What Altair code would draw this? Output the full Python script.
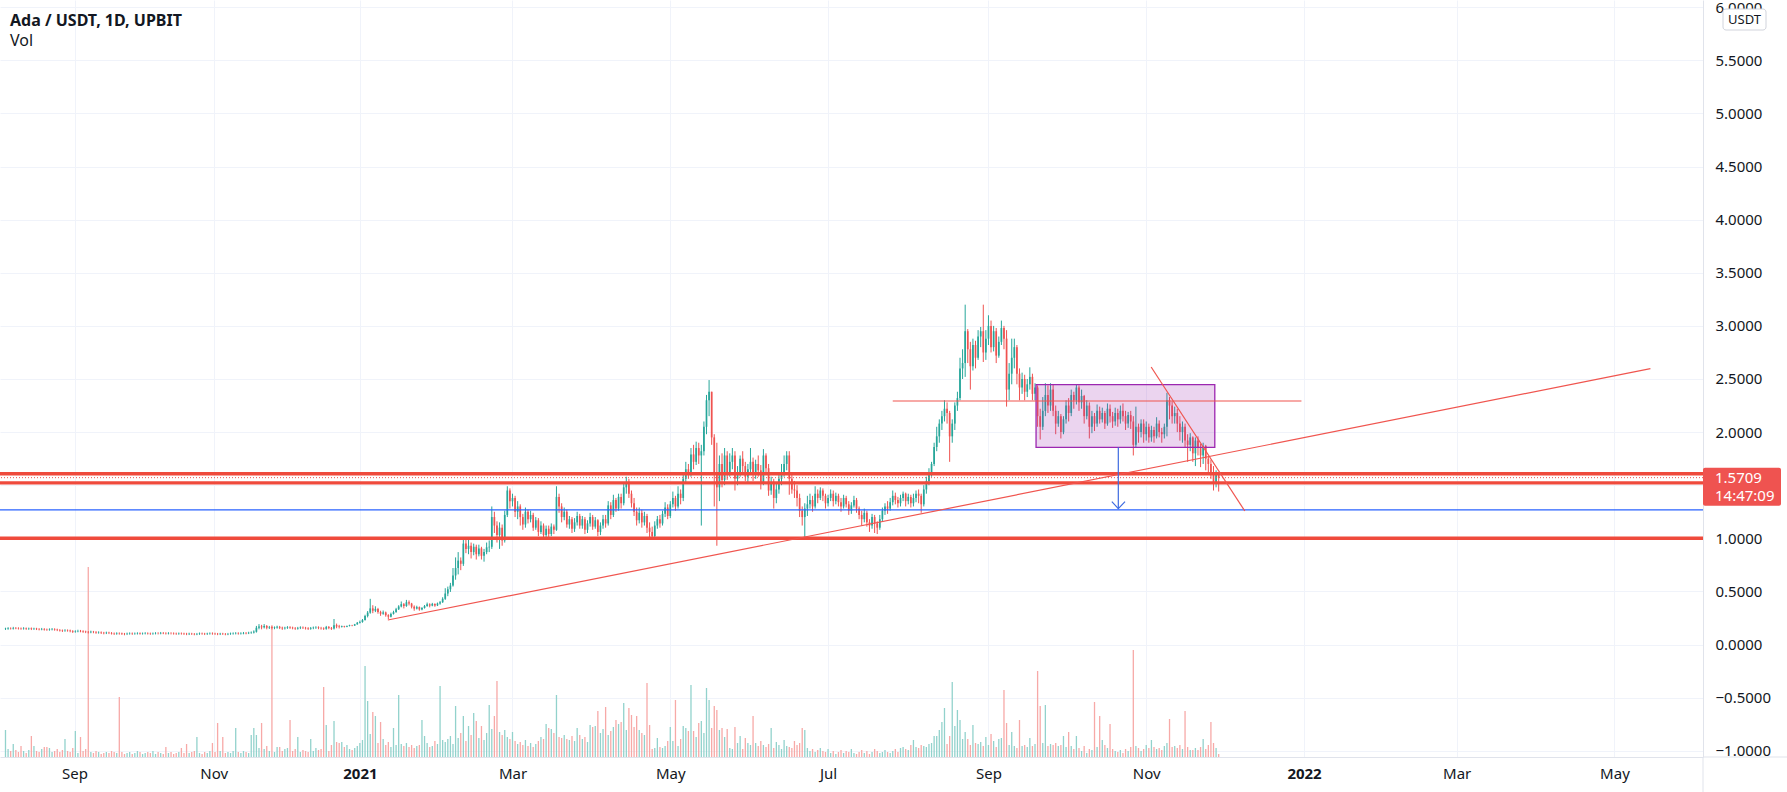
import altair as alt
import pandas as pd
import numpy as np

# ---------------- geometry of the pane (price units / bar index units) ----------------
W, H = 1703, 757
Y_MIN, Y_MAX = -1.0593, 6.0687
X_MIN, X_MAX = -0.19, 654.3
VOL_TOP = 757  # volume value that would reach the top of the pane

# ---------------- daily candles (bar index 0 = first visible bar) ----------------
FIRST_OPEN = 0.146
CLOSE = [
    0.148, 0.152, 0.150, 0.155, 0.153, 0.151, 0.149, 0.152, 0.147, 0.150,
    0.146, 0.149, 0.145, 0.143, 0.146, 0.141, 0.139, 0.142, 0.144, 0.140,
    0.136, 0.132, 0.129, 0.133, 0.131, 0.126, 0.120, 0.124, 0.128, 0.125,
    0.121, 0.118, 0.115, 0.119, 0.117, 0.112, 0.114, 0.110, 0.107, 0.111,
    0.108, 0.104, 0.101, 0.105, 0.103, 0.100, 0.098, 0.102, 0.104, 0.101,
    0.103, 0.105, 0.102, 0.104, 0.106, 0.103, 0.101, 0.104, 0.106, 0.105,
    0.108, 0.106, 0.104, 0.107, 0.105, 0.103, 0.101, 0.104, 0.102, 0.100,
    0.098, 0.101, 0.099, 0.097, 0.100, 0.103, 0.101, 0.099, 0.102, 0.104,
    0.102, 0.100, 0.098, 0.101, 0.099, 0.097, 0.100, 0.102, 0.104, 0.106,
    0.103, 0.105, 0.108, 0.106, 0.110, 0.113, 0.121, 0.158, 0.170, 0.162,
    0.174, 0.158, 0.163, 0.155, 0.160, 0.166, 0.158, 0.152, 0.157, 0.162,
    0.158, 0.154, 0.150, 0.156, 0.160, 0.157, 0.153, 0.149, 0.155, 0.158,
    0.161, 0.156, 0.152, 0.148, 0.164, 0.156, 0.150, 0.182, 0.170, 0.165,
    0.172, 0.166, 0.175, 0.181, 0.178, 0.190, 0.205, 0.212, 0.230, 0.268,
    0.300, 0.340, 0.318, 0.335, 0.305, 0.290, 0.302, 0.276, 0.262, 0.288,
    0.305, 0.332, 0.358, 0.380, 0.362, 0.398, 0.385, 0.356, 0.338, 0.352,
    0.330, 0.344, 0.362, 0.378, 0.366, 0.382, 0.368, 0.386, 0.398, 0.430,
    0.480, 0.520, 0.555, 0.650, 0.720, 0.790, 0.760, 0.950, 0.900, 0.930,
    0.870, 0.920, 0.850, 0.905, 0.835, 0.870, 0.915, 0.920, 1.200, 1.120,
    1.030, 1.100, 0.980, 1.220, 1.450, 1.350, 1.380, 1.250, 1.300, 1.200,
    1.130, 1.250, 1.180, 1.220, 1.100, 1.170, 1.060, 1.120, 1.030, 1.090,
    1.040, 1.110, 1.080, 1.390, 1.300, 1.200, 1.250, 1.130, 1.180, 1.090,
    1.150, 1.210, 1.120, 1.180, 1.080, 1.140, 1.200, 1.110, 1.170, 1.060,
    1.120, 1.180, 1.140, 1.310, 1.220, 1.360, 1.280, 1.390, 1.330, 1.480,
    1.520, 1.420, 1.330, 1.250, 1.170, 1.240, 1.150, 1.210, 1.100, 1.060,
    1.020, 1.120, 1.180, 1.140, 1.230, 1.290, 1.210, 1.320, 1.380, 1.300,
    1.420, 1.380, 1.560, 1.650, 1.620, 1.790, 1.720, 1.850, 1.780, 1.820,
    2.050, 2.300, 2.380, 1.950, 1.620, 1.480, 1.700, 1.550, 1.780, 1.620,
    1.720, 1.780, 1.560, 1.620, 1.750, 1.680, 1.580, 1.650, 1.720, 1.600,
    1.700, 1.640, 1.520, 1.780, 1.660, 1.450, 1.520, 1.380, 1.460, 1.560,
    1.620, 1.700, 1.780, 1.560, 1.460, 1.450, 1.380, 1.260, 1.200, 1.280,
    1.320, 1.360, 1.300, 1.420, 1.380, 1.450, 1.400, 1.330, 1.380, 1.420,
    1.350, 1.400, 1.340, 1.300, 1.380, 1.320, 1.260, 1.310, 1.360, 1.280,
    1.220, 1.180, 1.240, 1.150, 1.120, 1.200, 1.140, 1.100, 1.180, 1.260,
    1.300, 1.280, 1.340, 1.400, 1.360, 1.330, 1.380, 1.420, 1.350, 1.390,
    1.330, 1.380, 1.420, 1.400, 1.320, 1.460, 1.540, 1.610, 1.700, 1.860,
    1.960, 2.080, 2.150, 2.220, 2.180, 1.960, 2.080, 2.250, 2.320, 2.600,
    2.650, 2.950, 2.780, 2.620, 2.820, 2.700, 2.900, 2.950, 2.750, 2.880,
    3.000, 2.800, 2.950, 2.720, 2.850, 2.980, 2.880, 2.400, 2.550, 2.700,
    2.800, 2.550, 2.420, 2.500, 2.380, 2.450, 2.520, 2.360, 2.420, 2.150,
    2.050, 2.200, 2.350, 2.250, 2.400, 2.200, 2.080, 2.150, 2.000, 2.120,
    2.250, 2.180, 2.350, 2.300, 2.420, 2.280, 2.340, 2.150, 2.250, 2.050,
    2.150, 2.080, 2.200, 2.120, 2.180, 2.080, 2.220, 2.150, 2.100, 2.180,
    2.120, 2.200, 2.150, 2.080, 2.160, 2.100, 1.880, 2.050, 2.000, 2.080,
    1.980, 2.050, 1.950, 2.020, 1.960, 2.080, 2.000, 1.980, 2.050, 2.300,
    2.250, 2.150, 2.180, 2.080, 2.000, 2.050, 1.920, 1.880, 1.950, 1.800,
    1.920, 1.850, 1.780, 1.870, 1.750, 1.700, 1.620, 1.520, 1.600, 1.571,
]
HIGH = [
    0.158, 0.163, 0.161, 0.166, 0.164, 0.162, 0.160, 0.163, 0.160, 0.159,
    0.160, 0.158, 0.157, 0.154, 0.156, 0.154, 0.150, 0.152, 0.155, 0.153,
    0.149, 0.145, 0.141, 0.144, 0.142, 0.140, 0.135, 0.134, 0.139, 0.137,
    0.134, 0.130, 0.127, 0.130, 0.128, 0.126, 0.124, 0.123, 0.119, 0.121,
    0.120, 0.117, 0.113, 0.115, 0.114, 0.112, 0.109, 0.112, 0.114, 0.113,
    0.113, 0.115, 0.114, 0.113, 0.116, 0.114, 0.112, 0.113, 0.116, 0.115,
    0.118, 0.117, 0.115, 0.116, 0.115, 0.114, 0.112, 0.113, 0.113, 0.111,
    0.110, 0.111, 0.110, 0.108, 0.109, 0.113, 0.112, 0.110, 0.111, 0.114,
    0.114, 0.111, 0.109, 0.110, 0.110, 0.108, 0.109, 0.112, 0.114, 0.116,
    0.115, 0.115, 0.118, 0.117, 0.120, 0.123, 0.133, 0.175, 0.192, 0.185,
    0.192, 0.183, 0.175, 0.173, 0.170, 0.177, 0.175, 0.168, 0.167, 0.173,
    0.172, 0.168, 0.164, 0.166, 0.171, 0.170, 0.166, 0.163, 0.165, 0.169,
    0.172, 0.171, 0.166, 0.162, 0.175, 0.174, 0.165, 0.240, 0.197, 0.185,
    0.178, 0.176, 0.179, 0.186, 0.185, 0.194, 0.212, 0.225, 0.240, 0.280,
    0.315, 0.430, 0.370, 0.360, 0.345, 0.318, 0.320, 0.310, 0.285, 0.300,
    0.318, 0.345, 0.370, 0.405, 0.390, 0.420, 0.415, 0.392, 0.368, 0.365,
    0.358, 0.352, 0.372, 0.395, 0.388, 0.392, 0.388, 0.395, 0.410, 0.445,
    0.530, 0.545, 0.580, 0.720, 0.820, 0.870, 0.820, 1.010, 0.990, 0.990,
    0.960, 0.950, 0.940, 0.940, 0.920, 0.900, 0.960, 0.980, 1.300, 1.250,
    1.160, 1.150, 1.130, 1.260, 1.490, 1.470, 1.420, 1.400, 1.350, 1.320,
    1.230, 1.290, 1.270, 1.260, 1.240, 1.200, 1.190, 1.160, 1.140, 1.120,
    1.120, 1.140, 1.130, 1.490, 1.420, 1.330, 1.290, 1.270, 1.210, 1.200,
    1.190, 1.250, 1.230, 1.210, 1.200, 1.170, 1.240, 1.220, 1.200, 1.180,
    1.150, 1.220, 1.220, 1.350, 1.340, 1.410, 1.380, 1.420, 1.420, 1.530,
    1.580, 1.560, 1.450, 1.380, 1.290, 1.290, 1.270, 1.250, 1.230, 1.150,
    1.110, 1.160, 1.210, 1.220, 1.260, 1.340, 1.320, 1.350, 1.440, 1.400,
    1.490, 1.460, 1.600, 1.720, 1.700, 1.850, 1.880, 1.910, 1.900, 1.880,
    2.100, 2.350, 2.490, 2.340, 1.980, 1.900, 1.780, 1.800, 1.850, 1.820,
    1.800, 1.850, 1.820, 1.680, 1.780, 1.820, 1.720, 1.700, 1.850, 1.760,
    1.740, 1.780, 1.690, 1.840, 1.800, 1.700, 1.580, 1.560, 1.520, 1.620,
    1.700, 1.780, 1.820, 1.820, 1.600, 1.540, 1.500, 1.420, 1.300, 1.330,
    1.400, 1.420, 1.400, 1.490, 1.460, 1.480, 1.470, 1.420, 1.410, 1.460,
    1.450, 1.430, 1.420, 1.380, 1.410, 1.400, 1.350, 1.340, 1.400, 1.380,
    1.300, 1.260, 1.280, 1.260, 1.180, 1.230, 1.220, 1.160, 1.220, 1.290,
    1.330, 1.350, 1.380, 1.450, 1.430, 1.390, 1.410, 1.440, 1.430, 1.420,
    1.410, 1.420, 1.450, 1.460, 1.420, 1.500, 1.580, 1.660, 1.720, 1.900,
    2.050, 2.120, 2.200, 2.300, 2.280, 2.200, 2.120, 2.280, 2.380, 2.700,
    2.780, 3.200, 2.970, 2.850, 2.880, 2.860, 2.960, 2.990, 3.200, 2.960,
    3.100, 3.050, 3.000, 2.980, 2.900, 3.050, 3.000, 2.960, 2.650, 2.880,
    2.880, 2.820, 2.600, 2.560, 2.540, 2.500, 2.610, 2.550, 2.460, 2.440,
    2.220, 2.330, 2.460, 2.440, 2.460, 2.450, 2.250, 2.200, 2.170, 2.150,
    2.300, 2.320, 2.400, 2.380, 2.450, 2.440, 2.400, 2.350, 2.300, 2.280,
    2.200, 2.180, 2.260, 2.240, 2.230, 2.200, 2.270, 2.260, 2.190, 2.230,
    2.220, 2.250, 2.270, 2.200, 2.190, 2.200, 2.150, 2.240, 2.080, 2.120,
    2.120, 2.100, 2.080, 2.060, 2.050, 2.140, 2.110, 2.040, 2.080, 2.370,
    2.330, 2.290, 2.240, 2.220, 2.150, 2.100, 2.080, 1.980, 1.990, 1.960,
    1.950, 1.960, 1.890, 1.900, 1.880, 1.770, 1.740, 1.680, 1.640, 1.610,
]
LOW = [
    0.137, 0.139, 0.141, 0.141, 0.144, 0.141, 0.139, 0.140, 0.138, 0.138,
    0.136, 0.137, 0.136, 0.133, 0.134, 0.131, 0.129, 0.130, 0.133, 0.130,
    0.126, 0.122, 0.118, 0.120, 0.121, 0.115, 0.109, 0.111, 0.115, 0.115,
    0.110, 0.107, 0.104, 0.106, 0.106, 0.101, 0.102, 0.099, 0.096, 0.098,
    0.098, 0.094, 0.090, 0.092, 0.093, 0.090, 0.087, 0.089, 0.093, 0.091,
    0.092, 0.094, 0.093, 0.093, 0.095, 0.094, 0.091, 0.092, 0.095, 0.095,
    0.096, 0.097, 0.094, 0.095, 0.095, 0.093, 0.091, 0.092, 0.093, 0.090,
    0.088, 0.089, 0.090, 0.087, 0.088, 0.091, 0.092, 0.089, 0.090, 0.093,
    0.092, 0.090, 0.088, 0.089, 0.090, 0.087, 0.088, 0.091, 0.093, 0.095,
    0.093, 0.094, 0.096, 0.096, 0.098, 0.101, 0.104, 0.112, 0.143, 0.143,
    0.151, 0.143, 0.146, 0.142, 0.144, 0.149, 0.145, 0.138, 0.141, 0.147,
    0.147, 0.143, 0.138, 0.140, 0.145, 0.146, 0.141, 0.137, 0.139, 0.144,
    0.147, 0.144, 0.140, 0.137, 0.139, 0.144, 0.137, 0.141, 0.153, 0.151,
    0.160, 0.160, 0.163, 0.170, 0.172, 0.175, 0.186, 0.198, 0.205, 0.225,
    0.255, 0.290, 0.295, 0.305, 0.290, 0.270, 0.280, 0.262, 0.240, 0.255,
    0.282, 0.298, 0.325, 0.350, 0.340, 0.355, 0.368, 0.340, 0.318, 0.330,
    0.318, 0.322, 0.338, 0.355, 0.350, 0.360, 0.355, 0.362, 0.375, 0.392,
    0.420, 0.455, 0.495, 0.545, 0.610, 0.660, 0.700, 0.740, 0.860, 0.850,
    0.810, 0.840, 0.800, 0.830, 0.800, 0.780, 0.850, 0.870, 0.900, 1.050,
    0.960, 0.900, 0.930, 0.960, 1.200, 1.280, 1.300, 1.200, 1.180, 1.120,
    1.080, 1.100, 1.140, 1.150, 1.070, 1.080, 1.020, 1.040, 1.000, 1.010,
    1.000, 1.020, 1.040, 1.070, 1.240, 1.150, 1.170, 1.100, 1.090, 1.050,
    1.060, 1.120, 1.090, 1.090, 1.040, 1.050, 1.110, 1.080, 1.090, 1.020,
    1.030, 1.090, 1.100, 1.120, 1.180, 1.200, 1.250, 1.260, 1.280, 1.310,
    1.420, 1.380, 1.290, 1.210, 1.120, 1.140, 1.100, 1.120, 1.050, 0.990,
    0.990, 1.000, 1.090, 1.100, 1.120, 1.200, 1.180, 1.190, 1.290, 1.260,
    1.280, 1.320, 1.350, 1.520, 1.560, 1.580, 1.650, 1.690, 1.700, 1.120,
    1.780, 1.980, 2.150, 1.880, 1.300, 0.930, 1.350, 1.480, 1.500, 1.550,
    1.580, 1.650, 1.450, 1.500, 1.580, 1.620, 1.540, 1.520, 1.600, 1.540,
    1.560, 1.580, 1.460, 1.500, 1.600, 1.400, 1.410, 1.280, 1.330, 1.420,
    1.500, 1.580, 1.640, 1.410, 1.420, 1.380, 1.300, 1.200, 1.120, 1.000,
    1.210, 1.280, 1.250, 1.280, 1.330, 1.360, 1.350, 1.280, 1.300, 1.350,
    1.300, 1.320, 1.300, 1.250, 1.280, 1.290, 1.220, 1.230, 1.290, 1.240,
    1.180, 1.120, 1.150, 1.110, 1.060, 1.090, 1.050, 1.040, 1.080, 1.160,
    1.220, 1.230, 1.260, 1.310, 1.320, 1.290, 1.300, 1.350, 1.300, 1.320,
    1.290, 1.300, 1.340, 1.330, 1.240, 1.300, 1.420, 1.500, 1.580, 1.680,
    1.820, 1.900, 2.020, 2.100, 2.080, 1.720, 1.900, 2.020, 2.200, 2.300,
    2.500, 2.520, 2.650, 2.400, 2.580, 2.600, 2.680, 2.800, 2.660, 2.680,
    2.820, 2.750, 2.760, 2.650, 2.700, 2.820, 2.780, 2.240, 2.300, 2.450,
    2.600, 2.450, 2.300, 2.360, 2.300, 2.330, 2.400, 2.300, 2.300, 2.050,
    1.930, 2.020, 2.150, 2.180, 2.200, 2.150, 1.980, 2.050, 1.940, 1.980,
    2.080, 2.100, 2.150, 2.220, 2.260, 2.200, 2.220, 2.080, 2.120, 1.940,
    1.990, 2.010, 2.050, 2.080, 2.090, 2.030, 2.060, 2.090, 2.040, 2.060,
    2.050, 2.080, 2.100, 2.020, 2.040, 2.030, 1.780, 1.850, 1.900, 1.950,
    1.900, 1.920, 1.900, 1.910, 1.900, 1.940, 1.950, 1.900, 1.940, 1.960,
    2.120, 2.080, 2.080, 2.000, 1.920, 1.900, 1.860, 1.720, 1.820, 1.720,
    1.680, 1.780, 1.670, 1.700, 1.640, 1.600, 1.560, 1.450, 1.480, 1.440,
]
VOLUME = [
    27, 8, 6, 13, 7, 5, 11, 6, 4, 7,
    21, 11, 6, 5, 8, 10, 10, 9, 5, 6,
    8, 5, 7, 18, 6, 5, 9, 26, 4, 20,
    6, 8, 190, 5, 4, 6, 5, 3, 4, 5,
    4, 6, 5, 4, 60, 5, 3, 4, 5, 3,
    4, 6, 5, 3, 4, 5, 4, 6, 3, 5,
    4, 3, 10, 4, 5, 3, 4, 5, 9, 4,
    13, 4, 5, 6, 20, 4, 3, 5, 4, 6,
    14, 5, 34, 6, 20, 4, 5, 4, 6, 29,
    5, 4, 6, 5, 4, 22, 29, 22, 9, 34,
    8, 11, 6, 132, 5, 10, 10, 6, 8, 9,
    37, 6, 8, 20, 5, 7, 6, 5, 18, 6,
    9, 7, 8, 70, 32, 6, 12, 36, 15, 14,
    15, 10, 12, 8, 7, 9, 11, 14, 17, 91,
    56, 23, 45, 41, 14, 35, 18, 12, 15, 10,
    29, 12, 62, 13, 11, 14, 10, 12, 9, 11,
    12, 37, 21, 14, 10, 11, 16, 13, 71, 17,
    15, 18, 21, 13, 51, 19, 24, 41, 16, 31,
    22, 44, 36, 19, 31, 17, 24, 52, 28, 41,
    76, 25, 22, 27, 20, 18, 25, 16, 13, 15,
    12, 17, 11, 14, 10, 13, 16, 20, 18, 33,
    29, 28, 24, 62, 20, 19, 22, 18, 17, 21,
    16, 29, 22, 18, 20, 15, 32, 30, 31, 46,
    24, 28, 50, 22, 26, 30, 37, 33, 35, 54,
    27, 49, 42, 30, 41, 27, 24, 22, 74, 32,
    8, 9, 19, 10, 9, 11, 16, 30, 16, 57,
    11, 18, 31, 29, 26, 72, 26, 20, 34, 36,
    24, 69, 57, 29, 51, 47, 27, 29, 20, 28,
    9, 8, 30, 14, 21, 8, 19, 14, 12, 41,
    14, 11, 16, 12, 10, 13, 29, 9, 15, 12,
    8, 17, 11, 10, 9, 16, 12, 14, 29, 27,
    9, 6, 8, 5, 7, 9, 6, 5, 8, 4,
    6, 3, 5, 7, 4, 6, 5, 8, 4, 3,
    5, 7, 4, 6, 3, 5, 8, 6, 4, 5,
    7, 5, 4, 6, 8, 5, 9, 10, 8, 7,
    12, 17, 10, 9, 12, 11, 10, 13, 14, 21,
    21, 27, 35, 49, 13, 21, 75, 31, 47, 37,
    18, 25, 18, 12, 32, 14, 13, 15, 11, 20,
    12, 23, 16, 10, 18, 19, 67, 34, 12, 25,
    11, 9, 37, 11, 12, 10, 19, 11, 13, 86,
    51, 14, 52, 11, 13, 12, 14, 11, 12, 21,
    10, 25, 11, 8, 21, 9, 6, 11, 4, 8,
    7, 55, 10, 41, 17, 12, 9, 33, 8, 6,
    5, 7, 4, 8, 6, 10, 107, 11, 9, 6,
    8, 12, 9, 17, 10, 8, 9, 7, 11, 14,
    38, 10, 11, 9, 12, 8, 46, 10, 7, 7,
    9, 7, 10, 18, 8, 12, 35, 14, 9, 3,
]

# ---------------- axis ticks ----------------
TICK_POS = [26.7, 80.5, 137, 196, 257, 318, 380, 441, 502, 561, 622]
TICK_LABELS = ["Sep", "Nov", "2021", "Mar", "May", "Jul", "Sep", "Nov", "2022", "Mar", "May"]
YEAR_TICKS = [137, 502]
PRICE_TICKS = [-1.0, -0.5, 0.0, 0.5, 1.0, 1.5, 2.0, 2.5, 3.0, 3.5, 4.0, 4.5, 5.0, 5.5, 6.0]
HIDDEN_PRICE_TICK = 1.5  # covered by the last-price label in the picture

# ---------------- drawings ----------------
THICK_LEVELS = [1.608, 1.522, 1.0]
BLUE_LEVEL = 1.267
LAST_PRICE = 1.5709
COUNTDOWN = "14:47:09"
HLINE_K = [343, 501]
HLINE_P = 2.293
TREND_K = [147.8, 635.9]
TREND_P = [0.231, 2.597]
DIAG_K = [442.9, 479.1]
DIAG_P = [2.613, 1.257]
RECT_K = [398.4, 467.5]
RECT_P = [1.857, 2.447]
ARROW_K = [430.2, 430.2]
ARROW_P = [1.857, 1.280]
HEAD_K = [427.7, 430.2, 432.8]
HEAD_P = [1.345, 1.280, 1.345]

FONT = "Noto Sans"
UP, DOWN = "#26a69a", "#ef5350"
VUP, VDOWN = "#92d2cc", "#f7a9a7"
RED = "#ef4a3c"
TXT = "#131722"
BORDER = "#e0e3eb"

# ---------------- build the table ----------------
n = len(CLOSE)
close = np.array(CLOSE, dtype=float)
opn = np.concatenate([[FIRST_OPEN], close[:-1]])
high = np.maximum.reduce([np.array(HIGH[:n], dtype=float), opn, close])
low = np.minimum.reduce([np.array(LOW[:n], dtype=float), opn, close])
bars = pd.DataFrame({
    "k": np.arange(n), "open": opn, "high": high, "low": low, "close": close,
    "vol": np.array(VOLUME[:n], dtype=float),
})
bars["dir"] = np.where(bars["close"] >= bars["open"], "up", "down")

xs = alt.Scale(domain=[X_MIN, X_MAX], nice=False, zero=False)
ys = alt.Scale(domain=[Y_MIN, Y_MAX], nice=False, zero=False)

label_expr = " : ".join(f"datum.value == {p} ? '{l}'" for p, l in zip(TICK_POS, TICK_LABELS)) + " : ''"
year_test = " || ".join(f"datum.value == {p}" for p in YEAR_TICKS)
X_AX = alt.Axis(values=TICK_POS, labelExpr=label_expr, grid=True, gridColor="#f0f3fa",
                ticks=False, domainColor=BORDER, labelFontSize=15, labelColor=TXT,
                labelPadding=9, labelFlush=False, labelOverlap=False, title=None,
                labelFont=FONT,
                labelFontWeight={"condition": {"test": year_test, "value": "bold"}, "value": "normal"})
Y_AX = alt.Axis(values=PRICE_TICKS, orient="right", grid=True, gridColor="#f0f3fa",
                labelExpr=f"datum.value == {HIDDEN_PRICE_TICK} ? '' : format(datum.value, '.4f')",
                ticks=False, domainColor=BORDER, labelFontSize=15, labelColor=TXT,
                labelPadding=12, labelFlush=False, labelOverlap=False, title=None, labelFont=FONT)


def X(f):
    return alt.X(f, type="quantitative", scale=xs, axis=X_AX, title=None)


def Y(f):
    return alt.Y(f, type="quantitative", scale=ys, axis=Y_AX, title=None)


dir_color = alt.Color("dir:N", scale=alt.Scale(domain=["up", "down"], range=[UP, DOWN]), legend=None)
vol_color = alt.Color("dir:N", scale=alt.Scale(domain=["up", "down"], range=[VUP, VDOWN]), legend=None)

volume = alt.Chart(bars).mark_bar(size=1.3).encode(
    x=X("k"),
    y=alt.Y("vol:Q", scale=alt.Scale(domain=[0, VOL_TOP], nice=False), axis=None, title=None),
    color=vol_color,
)

wicks = alt.Chart(bars).mark_rule(strokeWidth=1).encode(x=X("k"), y=Y("low"), y2="high", color=dir_color)
bodies = alt.Chart(bars).mark_bar(size=1.7).encode(x=X("k"), y=Y("open"), y2="close", color=dir_color)

thick = alt.Chart(pd.DataFrame({"p": THICK_LEVELS})).mark_rule(color=RED, strokeWidth=3.4).encode(y=Y("p"))
blue = alt.Chart(pd.DataFrame({"p": [BLUE_LEVEL]})).mark_rule(color="#2962ff", strokeWidth=1.2).encode(y=Y("p"))
dotted = alt.Chart(pd.DataFrame({"p": [LAST_PRICE]})).mark_rule(
    color=DOWN, strokeWidth=1, strokeDash=[1, 2]).encode(y=Y("p"))

hline = alt.Chart(pd.DataFrame({"k1": [HLINE_K[0]], "k2": [HLINE_K[1]], "p": [HLINE_P]})).mark_rule(
    color="#f0554f", strokeWidth=1.2).encode(x=X("k1"), x2="k2", y=Y("p"))

segs = pd.DataFrame({
    "k": TREND_K + DIAG_K,
    "p": TREND_P + DIAG_P,
    "seg": ["trend", "trend", "diag", "diag"],
})
lines = alt.Chart(segs).mark_line(color="#f0554f", strokeWidth=1.2).encode(x=X("k"), y=Y("p"), detail="seg:N")

rect = alt.Chart(pd.DataFrame({"k1": [RECT_K[0]], "k2": [RECT_K[1]], "p1": [RECT_P[0]], "p2": [RECT_P[1]]})).mark_rect(
    fill="#9c27b0", fillOpacity=0.2, stroke="#9c27b0", strokeWidth=1.3).encode(
    x=X("k1"), x2="k2", y=Y("p1"), y2="p2")

arrow = pd.DataFrame({
    "k": ARROW_K + HEAD_K,
    "p": ARROW_P + HEAD_P,
    "seg": ["shaft", "shaft", "head", "head", "head"],
    "o": [0, 1, 0, 1, 2],
})
arrow_ch = alt.Chart(arrow).mark_line(color="#3d6be0", strokeWidth=1.2).encode(
    x=X("k"), y=Y("p"), detail="seg:N", order="o:Q")

# ---------------- axis-area borders (price scale / time scale separators) ----------------
one = pd.DataFrame({"a": [0]})
sep_v = alt.Chart(one).mark_rule(color=BORDER, strokeWidth=1).encode(
    x=alt.value(W), y=alt.value(H), y2=alt.value(H + 35))
sep_h = alt.Chart(one).mark_rule(color=BORDER, strokeWidth=1).encode(
    x=alt.value(W), x2=alt.value(W + 84), y=alt.value(H))

# ---------------- price label on the axis ----------------
ppu = H / (Y_MAX - Y_MIN)
lab = pd.DataFrame({"top": [LAST_PRICE + 10 / ppu], "bot": [LAST_PRICE - 28 / ppu],
                    "p": [LAST_PRICE], "t1": [f"{LAST_PRICE:.4f}"], "t2": [COUNTDOWN]})
lab_box = alt.Chart(lab).mark_rect(fill="#ef5350", cornerRadius=2).encode(
    x=alt.value(W), x2=alt.value(W + 78), y=Y("top"), y2="bot")
lab_t1 = alt.Chart(lab).mark_text(align="left", baseline="middle", color="white", fontSize=15, font=FONT).encode(
    x=alt.value(W + 12), y=Y("p"), text="t1:N")
lab_t2 = alt.Chart(lab).mark_text(align="left", baseline="middle", color="white", fontSize=15, font=FONT, dy=18).encode(
    x=alt.value(W + 12), y=Y("p"), text="t2:N")

usdt = pd.DataFrame({"t": ["USDT"]})
usdt_box = alt.Chart(usdt).mark_rect(fill="white", stroke="#d1d4dc", strokeWidth=1, cornerRadius=3).encode(
    x=alt.value(W + 20), x2=alt.value(W + 63), y=alt.value(9), y2=alt.value(30))
usdt_txt = alt.Chart(usdt).mark_text(align="center", baseline="middle", fontSize=13, color=TXT, font=FONT).encode(
    x=alt.value(W + 41.5), y=alt.value(20), text="t:N")

title = alt.Chart(pd.DataFrame({"t": ["Ada / USDT, 1D, UPBIT"]})).mark_text(
    align="left", baseline="middle", fontSize=16, fontWeight="bold", color=TXT, font=FONT).encode(
    x=alt.value(10), y=alt.value(21), text="t:N")
vol_title = alt.Chart(pd.DataFrame({"t": ["Vol"]})).mark_text(
    align="left", baseline="middle", fontSize=16, color=TXT, font=FONT).encode(
    x=alt.value(10), y=alt.value(41), text="t:N")

price = alt.layer(wicks, bodies, rect, thick, blue, dotted, hline, lines, arrow_ch,
                  sep_v, sep_h, lab_box, lab_t1, lab_t2, usdt_box, usdt_txt, title, vol_title)

chart = alt.layer(volume, price).resolve_scale(y="independent", color="independent").properties(
    width=W, height=H,
    padding={"left": 0, "top": 0, "right": 84, "bottom": 35},
    autosize=alt.AutoSizeParams(type="none"),
    background="white",
).configure_view(stroke=None)

chart.save("out.html", embed_options={"renderer": "svg", "actions": False})
